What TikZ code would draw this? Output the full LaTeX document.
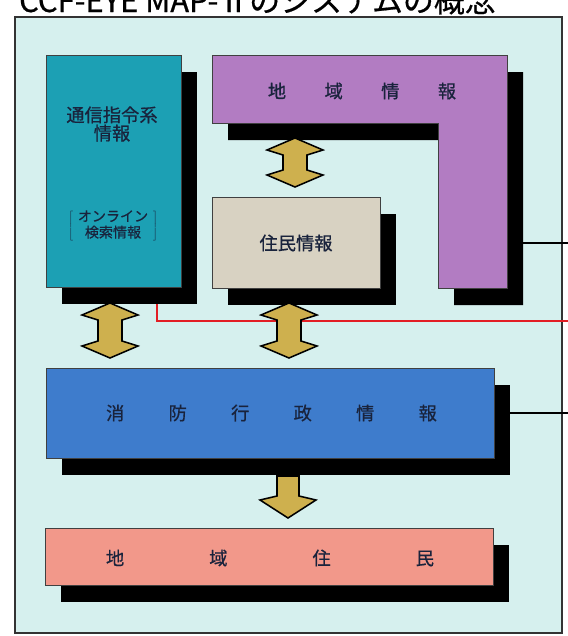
\documentclass[tikz,border=0pt]{standalone}
\usepackage{fontspec}
\setmainfont{Noto Sans CJK JP}
\newfontfamily\heavyjp[FakeBold=0.6]{Noto Sans CJK JP}
\usepackage{tikz}
\usetikzlibrary{calc}
\definecolor{bgcyan}{RGB}{214,240,238}
\definecolor{tealbox}{RGB}{28,160,180}
\definecolor{purplebox}{RGB}{178,124,194}
\definecolor{beigebox}{RGB}{216,210,194}
\definecolor{bluebox}{RGB}{62,124,204}
\definecolor{salmonbox}{RGB}{242,152,138}
\definecolor{goldfill}{RGB}{206,176,78}
\definecolor{txtdark}{RGB}{25,35,60}
\definecolor{wirered}{RGB}{226,30,36}
\tikzstyle{box} = [draw=black!75,line width=0.6pt,inner sep=0pt,text=txtdark]
\tikzstyle{shade} = [fill=black,inner sep=0pt]
\tikzstyle{fat} = [fill=goldfill,draw=black,line width=2.2pt,line join=miter]
\tikzstyle{wire} = [line width=4pt]
\tikzstyle{lbl} = [text=txtdark,font=\heavyjp\fontsize{26}{26}\selectfont,align=center]

\begin{document}
\begin{tikzpicture}[x=0.05cm,y=-0.05cm]
    \useasboundingbox (0,0) rectangle (568,636);

    \node[anchor=base west,inner sep=0,font=\heavyjp\fontsize{44}{46}\selectfont] (title) at (19,12) {CCF-EYE MAP-Ⅱのシステムの概念};
    \draw[line width=2.5pt,draw=black!80,fill=bgcyan] (15,17) rectangle (562,633);

    % shadows
    \node[shade,minimum width=6.75cm,minimum height=11.6cm] (comm-sh) at (129.5,188) {};
    \node[shade,minimum width=8.4cm,minimum height=4.55cm] (resid-sh) at (312,259.5) {};
    \node[shade,minimum width=22.4cm,minimum height=4.5cm] (admin-sh) at (286,430) {};
    \node[shade,minimum width=22.4cm,minimum height=2.85cm] (people-sh) at (285,573.5) {};
    \fill[shift={(16,17)}] (212,55) -- (507,55) -- (507,288) -- (438,288) -- (438,123) -- (212,123) -- cycle;

    % boxes
    \node[box,fill=tealbox,minimum width=6.75cm,minimum height=11.6cm] (comm) at (113.5,171) {};
    \node[box,fill=beigebox,minimum width=8.4cm,minimum height=4.55cm] (resid) at (296,242.5) {};
    \node[box,fill=bluebox,minimum width=22.4cm,minimum height=4.5cm] (admin) at (270,413) {};
    \node[box,fill=salmonbox,minimum width=22.4cm,minimum height=2.85cm] (people) at (269,556.5) {};
    \draw[box,fill=purplebox] (212,55) -- (507,55) -- (507,288) -- (438,288) -- (438,123) -- (212,123) -- cycle;

    % labels
    \node[lbl] (commtxt) at (112,124) {通信指令系\\情報};
    \node[text=txtdark,font=\heavyjp\fontsize{20}{20}\selectfont] (online) at (113,226)
        {$\left[\hspace{7pt}\begin{tabular}{@{}c@{}}オンライン\\検索情報\end{tabular}\hspace{7pt}\right]$};
    \node[lbl] (residtxt) at (296,243) {住民情報};
    \node[lbl] (areatxt) at (362,91) {地\hspace{2.1em}域\hspace{2.1em}情\hspace{2.1em}報};
    \node[lbl] (admintxt) at (271.5,413) {消\hspace{2.42em}防\hspace{2.42em}行\hspace{2.42em}政\hspace{2.42em}情\hspace{2.42em}報};
    \node[lbl] (peopletxt) at (270,558) {地\hspace{4.65em}域\hspace{4.65em}住\hspace{4.65em}民};

    % wires to the right
    \coordinate (arear) at (523,243);
    \coordinate (w1) at (568,243);
    \coordinate (w2) at (568,413);
    \coordinate (rk) at (157,321);
    \coordinate (w3) at (568,321);
    \draw[wire] (arear) -- (w1);
    \draw[wire] (admin-sh.east |- w2) -- (w2);
    \draw[wirered,line width=2.2pt] (comm-sh.south -| rk) -- (rk) -- (w3);

    % arrows
    \coordinate (a1t) at (295,138);
    \coordinate (a1b) at (295,187);
    \coordinate (a2t) at (110,303);
    \coordinate (a2b) at (110,358);
    \coordinate (a3t) at (289,303);
    \coordinate (a3b) at (289,358);
    \coordinate (a4t) at (288,476);
    \coordinate (a4b) at (288,518);
    \draw[fat] (a1t) -- ++(28,12) -- ($(a1t)+(12,17)$) -- ($(a1b)+(12,-17)$) -- ++(16,5) -- (a1b)
        -- ++(-28,-12) -- ($(a1b)+(-12,-17)$) -- ($(a1t)+(-12,17)$) -- ++(-16,-5) -- cycle;
    \draw[fat] (a2t) -- ++(28,12) -- ($(a2t)+(12,17)$) -- ($(a2b)+(12,-17)$) -- ++(16,5) -- (a2b)
        -- ++(-28,-12) -- ($(a2b)+(-12,-17)$) -- ($(a2t)+(-12,17)$) -- ++(-16,-5) -- cycle;
    \draw[fat] (a3t) -- ++(28,12) -- ($(a3t)+(12,17)$) -- ($(a3b)+(12,-17)$) -- ++(16,5) -- (a3b)
        -- ++(-28,-12) -- ($(a3b)+(-12,-17)$) -- ($(a3t)+(-12,17)$) -- ++(-16,-5) -- cycle;
    \draw[fat] ($(a4t)+(-11,0)$) -- ($(a4t)+(11,0)$) -- ($(a4b)+(11,-22)$) -- ++(17,4) -- (a4b)
        -- ++(-28,-18) -- ++(17,-4) -- cycle;
\end{tikzpicture}
\end{document}
